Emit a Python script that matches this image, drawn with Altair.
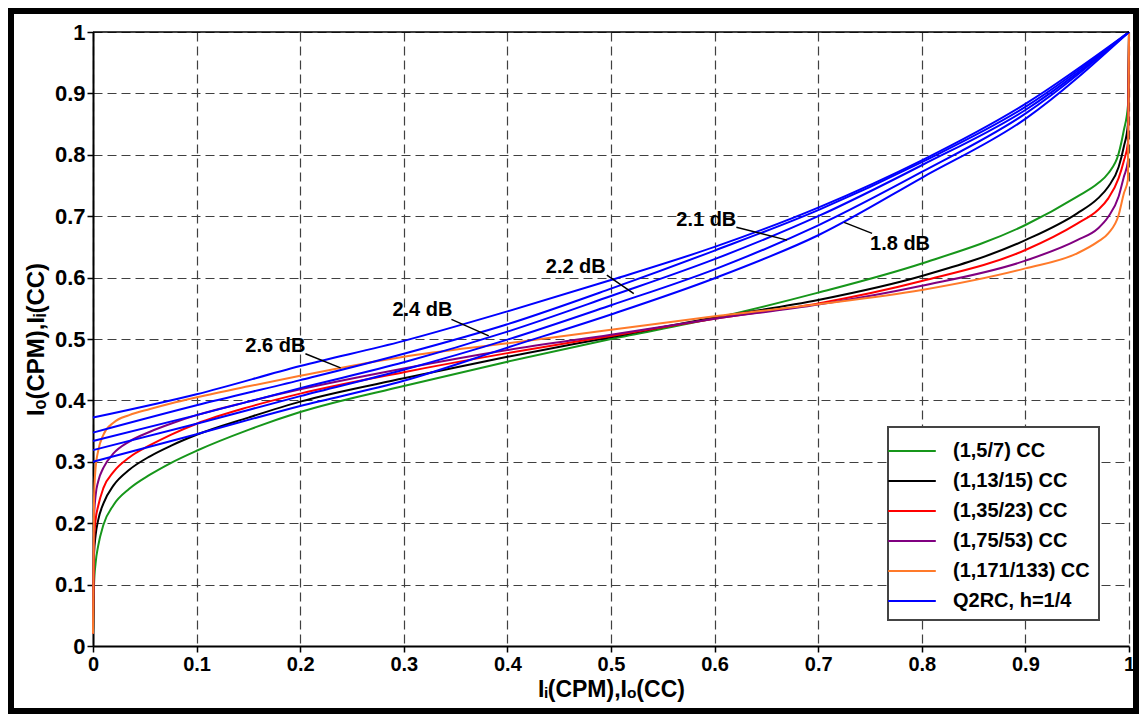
import altair as alt
import pandas as pd

# ---------------- data ----------------
series_labels = ["(1,5/7) CC", "(1,13/15) CC", "(1,35/23) CC", "(1,75/53) CC",
                 "(1,171/133) CC", "Q2RC, h=1/4"]
series_colors = ["#16961a", "#000000", "#ff0000", "#800080", "#ff7a2a", "#0000ff"]

cc_x = [0, 0.001, 0.0025, 0.005, 0.01, 0.02, 0.035, 0.055, 0.075, 0.1, 0.15, 0.2,
        0.3, 0.4, 0.5, 0.6, 0.7, 0.8, 0.9, 0.95, 0.97, 0.98, 0.99, 0.995, 0.999, 1.0]
cc_green = [0.02, 0.10, 0.135, 0.163, 0.197, 0.230, 0.256, 0.279, 0.298, 0.318, 0.352, 0.381,
            0.4235, 0.463, 0.500, 0.534, 0.5755, 0.623, 0.6857, 0.732, 0.7535, 0.770, 0.802, 0.840, 0.880, 1.0]
cc_black = [0.02, 0.15, 0.18, 0.205, 0.232, 0.262, 0.287, 0.309, 0.326, 0.344, 0.372, 0.398,
            0.436, 0.471, 0.503, 0.535, 0.5635, 0.6026, 0.661, 0.7047, 0.729, 0.748, 0.780, 0.813, 0.850, 1.0]
cc_red = [0.02, 0.17, 0.205, 0.228, 0.257, 0.284, 0.307, 0.327, 0.344, 0.362, 0.389, 0.411,
          0.446, 0.477, 0.505, 0.533, 0.558, 0.5945, 0.645, 0.688, 0.710, 0.729, 0.762, 0.790, 0.820, 1.0]
cc_purple = [0.02, 0.21, 0.245, 0.268, 0.290, 0.314, 0.333, 0.349, 0.362, 0.376, 0.398, 0.418,
             0.452, 0.482, 0.507, 0.533, 0.556, 0.5868, 0.6276, 0.661, 0.680, 0.699, 0.732, 0.764, 0.790, 1.0]
cc_orange = [0.02, 0.24, 0.29, 0.318, 0.344, 0.364, 0.376, 0.386, 0.395, 0.405, 0.423, 0.440,
             0.471, 0.493, 0.515, 0.537, 0.5565, 0.5798, 0.615, 0.6395, 0.6585, 0.672, 0.702, 0.737, 0.760, 1.0]

q2_x = [0, 0.1, 0.2, 0.3, 0.4, 0.5, 0.6, 0.7, 0.8, 0.9, 1.0]
q2_names = ["2.6 dB", "2.4 dB", "2.2 dB", "2.1 dB", "1.8 dB"]
q2_26 = [0.372, 0.410, 0.456, 0.497, 0.545, 0.596, 0.650, 0.714, 0.791, 0.883, 1.0]
q2_24 = [0.3475, 0.392, 0.433, 0.476, 0.524, 0.582, 0.644, 0.710, 0.788, 0.878, 1.0]
q2_22 = [0.334, 0.376, 0.420, 0.462, 0.512, 0.570, 0.630, 0.700, 0.783, 0.873, 1.0]
q2_21 = [0.319, 0.362, 0.407, 0.450, 0.499, 0.555, 0.6135, 0.685, 0.772, 0.867, 1.0]
q2_18 = [0.300, 0.345, 0.391, 0.432, 0.486, 0.540, 0.599, 0.669, 0.7626, 0.8585, 1.0]

ann_text = ["2.6 dB", "2.4 dB", "2.2 dB", "2.1 dB", "1.8 dB"]
ann_x = [0.176, 0.318, 0.466, 0.592, 0.779]
ann_y = [0.489, 0.547, 0.617, 0.693, 0.655]
lead_x1 = [0.205, 0.346, 0.496, 0.621, 0.752]
lead_y1 = [0.476, 0.532, 0.604, 0.682, 0.672]
lead_x2 = [0.239, 0.382, 0.522, 0.670, 0.725]
lead_y2 = [0.453, 0.505, 0.574, 0.661, 0.690]

ticks = [0, 0.1, 0.2, 0.3, 0.4, 0.5, 0.6, 0.7, 0.8, 0.9, 1]

# ---------------- tables ----------------
rows = []
for lab, ys in zip(series_labels[:5], [cc_green, cc_black, cc_red, cc_purple, cc_orange]):
    for x, y in zip(cc_x, ys):
        rows.append({"x": x, "y": y, "series": lab, "curve": lab})
for name, ys in zip(q2_names, [q2_26, q2_24, q2_22, q2_21, q2_18]):
    for x, y in zip(q2_x, ys):
        rows.append({"x": x, "y": y, "series": series_labels[5], "curve": "Q2RC " + name})
df = pd.DataFrame(rows)

ann_df = pd.DataFrame({"text": ann_text, "x": ann_x, "y": ann_y})
lead_df = pd.DataFrame({"x": lead_x1, "y": lead_y1, "x2": lead_x2, "y2": lead_y2})
one = pd.DataFrame({"k": [0]})

FONT = "Liberation Sans"
W, H = 1036, 614

xs = alt.Scale(domain=[0, 1], nice=False, zero=False)
ys_ = alt.Scale(domain=[0, 1], nice=False, zero=False)

lines = alt.Chart(df).mark_line(strokeWidth=2, interpolate="monotone").encode(
    x=alt.X("x:Q", scale=xs,
            axis=alt.Axis(values=ticks, format="~g", title="Iᵢ(CPM),Iₒ(CC)")),
    y=alt.Y("y:Q", scale=ys_,
            axis=alt.Axis(values=ticks, format="~g", title="Iₒ(CPM),Iᵢ(CC)")),
    color=alt.Color("series:N",
                    scale=alt.Scale(domain=series_labels, range=series_colors),
                    legend=alt.Legend(title=None)),
    detail="curve:N",
)

leaders = alt.Chart(lead_df).mark_rule(color="black", strokeWidth=1.5).encode(
    x=alt.X("x:Q", scale=xs), y=alt.Y("y:Q", scale=ys_),
    x2="x2:Q", y2="y2:Q",
)

labels = alt.Chart(ann_df).mark_text(font=FONT, fontSize=20, fontWeight="bold",
                                     color="black").encode(
    x=alt.X("x:Q", scale=xs), y=alt.Y("y:Q", scale=ys_), text="text:N",
)

top_line = alt.Chart(one).mark_rule(color="black", strokeWidth=1.5).encode(
    x=alt.value(0), x2=alt.value(W), y=alt.value(0))

frame = alt.Chart(one).mark_rect(fillOpacity=0, stroke="black", strokeWidth=6).encode(
    x=alt.value(-82), x2=alt.value(1043), y=alt.value(-21), y2=alt.value(679))

chart = alt.layer(lines, leaders, labels, top_line, frame).properties(
    width=W, height=H,
    padding={"left": 85, "top": 24, "right": 10, "bottom": 68},
    autosize=alt.AutoSizeParams(type="none"),
    background="white",
).configure_view(strokeWidth=0).configure_axis(
    labelFont=FONT, labelFontSize=22, labelFontWeight="bold", labelColor="black",
    titleFont=FONT, titleFontSize=24, titleFontWeight="bold", titleColor="black",
    domainColor="black", domainWidth=2, tickColor="black", tickSize=6, tickWidth=1.5,
    gridColor="#404040", gridDash=[9, 5], gridWidth=1.2, labelFlush=False,
).configure_axisX(labelPadding=2, labelFontSize=20, titlePadding=4,
                  titleFontSize=23).configure_axisY(
    labelPadding=2, titlePadding=6
).configure_legend(
    orient="none", legendX=795, legendY=395,
    fillColor="white", strokeColor="#444444", strokeWidth=2, padding=9,
    labelFont=FONT, labelFontSize=20, labelFontWeight="bold", labelColor="black",
    symbolType="M-1.7,0H1.7", symbolSize=784, symbolStrokeWidth=2,
    labelOffset=26, rowPadding=5, labelLimit=300,
)

chart.save("out.html", embed_options={"renderer": "svg", "actions": False})
